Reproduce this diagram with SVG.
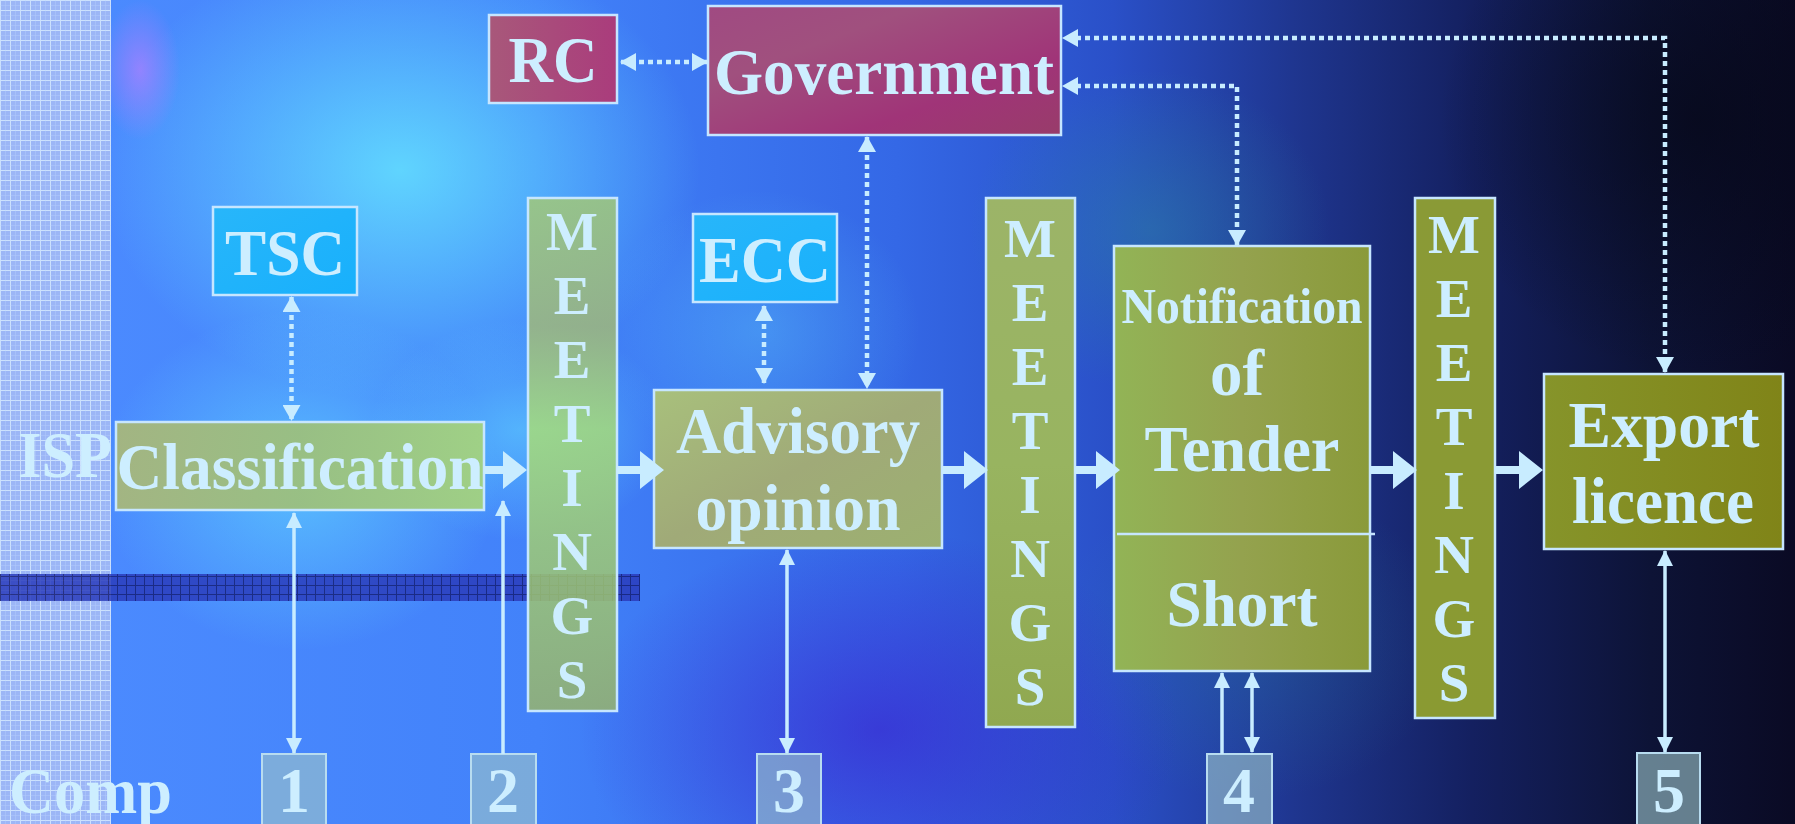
<svg xmlns="http://www.w3.org/2000/svg" width="1795" height="824" viewBox="0 0 1795 824">
<defs>
<linearGradient id="bg" x1="0" y1="0" x2="1" y2="0">
<stop offset="0" stop-color="#4d8cff"/><stop offset="0.3" stop-color="#4282fa"/><stop offset="0.5" stop-color="#3468e6"/><stop offset="0.62" stop-color="#2a50c8"/><stop offset="0.72" stop-color="#1f3690"/><stop offset="0.82" stop-color="#142060"/><stop offset="0.92" stop-color="#0d1336"/><stop offset="1" stop-color="#0a0a24"/>
</linearGradient>
<radialGradient id="cy"><stop offset="0" stop-color="#66e8ff" stop-opacity="0.8"/><stop offset="1" stop-color="#66e8ff" stop-opacity="0"/></radialGradient>
<radialGradient id="pu"><stop offset="0" stop-color="#3a1ccc" stop-opacity="0.6"/><stop offset="1" stop-color="#3a1ccc" stop-opacity="0"/></radialGradient>
<radialGradient id="te"><stop offset="0" stop-color="#2c8aa0" stop-opacity="0.45"/><stop offset="1" stop-color="#2c8aa0" stop-opacity="0"/></radialGradient>
<radialGradient id="vi"><stop offset="0" stop-color="#b080ff" stop-opacity="0.7"/><stop offset="1" stop-color="#b080ff" stop-opacity="0"/></radialGradient>
<radialGradient id="dk"><stop offset="0" stop-color="#060818" stop-opacity="0.7"/><stop offset="1" stop-color="#060818" stop-opacity="0"/></radialGradient>
<pattern id="grid" width="10" height="10" patternUnits="userSpaceOnUse">
<rect width="10" height="10" fill="#9cb6f6"/><path d="M0,0.5H10M0.5,0V10" stroke="#d8ecff" stroke-width="1" opacity="0.8"/><path d="M0,5.5H10M5.5,0V10" stroke="#b8d0ff" stroke-width="0.6" opacity="0.6"/>
</pattern>
<pattern id="band" width="9" height="9" patternUnits="userSpaceOnUse">
<rect width="9" height="9" fill="#2a3cbc"/><path d="M0,0.5H9M0.5,0V9" stroke="#121a70" stroke-width="1"/>
</pattern>
<linearGradient id="gMag" x1="0" y1="0" x2="1" y2="1"><stop offset="0" stop-color="#a04a82"/><stop offset="0.3" stop-color="#a0507e"/><stop offset="0.7" stop-color="#a03478"/><stop offset="1" stop-color="#983c6a"/></linearGradient>
<linearGradient id="gRC" x1="0" y1="0" x2="1" y2="0"><stop offset="0" stop-color="#a8587a"/><stop offset="1" stop-color="#aa3c7c"/></linearGradient>
<linearGradient id="gCy" x1="0" y1="0" x2="1" y2="1"><stop offset="0" stop-color="#28b6fa"/><stop offset="1" stop-color="#18b0fc"/></linearGradient>
<linearGradient id="gCl" x1="0" y1="0" x2="1" y2="0"><stop offset="0" stop-color="#aab878"/><stop offset="0.5" stop-color="#9ec07a"/><stop offset="1" stop-color="#a6d47c"/></linearGradient>
<linearGradient id="gM1" x1="0" y1="0" x2="0" y2="1"><stop offset="0" stop-color="#a2c878"/><stop offset="0.25" stop-color="#a0b87a"/><stop offset="0.45" stop-color="#a6dc7a"/><stop offset="1" stop-color="#98b46c"/></linearGradient>
<linearGradient id="gAd" x1="0" y1="0" x2="1" y2="1"><stop offset="0" stop-color="#a8c07c"/><stop offset="0.5" stop-color="#a0aa78"/><stop offset="1" stop-color="#9cb070"/></linearGradient>
<linearGradient id="gM2" x1="0" y1="0" x2="0" y2="1"><stop offset="0" stop-color="#9cb468"/><stop offset="0.5" stop-color="#98b460"/><stop offset="1" stop-color="#90a850"/></linearGradient>
<linearGradient id="gNo" x1="0" y1="0" x2="1" y2="0"><stop offset="0" stop-color="#92b456"/><stop offset="0.5" stop-color="#94a24e"/><stop offset="1" stop-color="#8a9a3a"/></linearGradient>
<linearGradient id="gM3" x1="0" y1="0" x2="0" y2="1"><stop offset="0" stop-color="#8a9a36"/><stop offset="1" stop-color="#8a9a32"/></linearGradient>
<linearGradient id="gEx" x1="0" y1="0" x2="1" y2="0"><stop offset="0" stop-color="#86942a"/><stop offset="1" stop-color="#808418"/></linearGradient>
<marker id="ah" viewBox="0 0 16 16" refX="15" refY="8" markerWidth="16" markerHeight="16" markerUnits="userSpaceOnUse" orient="auto-start-reverse"><path d="M0,0L16,8L0,16Z" fill="#c8ecff"/></marker>
<marker id="ad" viewBox="0 0 16 18" refX="15" refY="9" markerWidth="16" markerHeight="18" markerUnits="userSpaceOnUse" orient="auto-start-reverse"><path d="M0,0L16,9L0,18Z" fill="#c8ecff"/></marker>
<style>
.t{font-family:"Liberation Serif","Times New Roman",serif;font-weight:bold;fill:#cdeeff;text-anchor:middle;font-size:66px}
.s{text-anchor:start}
.m{font-size:55px}
.d{font-size:64px}
.box{stroke:#c6e6ff;stroke-width:2.5}
.num{fill:#9cc4c8;fill-opacity:0.62;stroke:#b8dcf0;stroke-width:2}
.thin{fill:none;stroke:#c8ecff;stroke-width:3.5}
.dot{fill:none;stroke:#c8ecff;stroke-width:4.5;stroke-dasharray:5 4}
.blk{fill:#c8ecff}
</style>
</defs>
<g id="background">
<rect width="1795" height="824" fill="url(#bg)"/>
<ellipse cx="400" cy="170" rx="300" ry="230" fill="url(#cy)"/>
<ellipse cx="300" cy="480" rx="200" ry="170" fill="url(#cy)" opacity="0.7"/>
<ellipse cx="520" cy="430" rx="150" ry="110" fill="url(#cy)" opacity="0.6"/>
<ellipse cx="760" cy="330" rx="160" ry="140" fill="url(#cy)" opacity="0.35"/>
<ellipse cx="880" cy="730" rx="300" ry="200" fill="url(#pu)"/>
<ellipse cx="1150" cy="230" rx="180" ry="160" fill="url(#te)"/>
<ellipse cx="1250" cy="640" rx="200" ry="160" fill="url(#te)" opacity="0.6"/>
<ellipse cx="140" cy="70" rx="40" ry="70" fill="url(#vi)"/>
<ellipse cx="1700" cy="120" rx="260" ry="260" fill="url(#dk)"/>
<rect x="0" y="0" width="111" height="824" fill="url(#grid)"/>
<rect x="0" y="574" width="640" height="27" fill="url(#band)" opacity="0.85"/>
</g>
<g id="labels">
<text class="t s" x="18" y="477" textLength="94" lengthAdjust="spacingAndGlyphs">ISP</text>
<text class="t s" x="9" y="813" textLength="163" lengthAdjust="spacingAndGlyphs">Comp</text>
</g>
<g id="rc"><rect class="box" x="489" y="15" width="128" height="88" fill="url(#gRC)"/><text class="t" x="553" y="82" textLength="89" lengthAdjust="spacingAndGlyphs">RC</text></g>
<g id="government"><rect class="box" x="708" y="6" width="353" height="129" fill="url(#gMag)"/><text class="t" x="884" y="94" textLength="340" lengthAdjust="spacingAndGlyphs">Government</text></g>
<g id="tsc"><rect class="box" x="213" y="207" width="144" height="88" fill="url(#gCy)"/><text class="t" x="285" y="275" textLength="120" lengthAdjust="spacingAndGlyphs">TSC</text></g>
<g id="ecc"><rect class="box" x="693" y="214" width="144" height="88" fill="url(#gCy)"/><text class="t" x="765" y="282" textLength="132" lengthAdjust="spacingAndGlyphs">ECC</text></g>
<g id="classification"><rect class="box" x="116" y="422" width="368" height="88" fill="url(#gCl)" fill-opacity="0.92"/><text class="t" x="300" y="489" textLength="367" lengthAdjust="spacingAndGlyphs">Classification</text></g>
<g id="meetings1"><rect class="box" x="528" y="198" width="89" height="513" fill="url(#gM1)" fill-opacity="0.85"/>
<text class="t m" x="572"><tspan x="572" y="250">M</tspan><tspan x="572" y="314">E</tspan><tspan x="572" y="378">E</tspan><tspan x="572" y="442">T</tspan><tspan x="572" y="506">I</tspan><tspan x="572" y="570">N</tspan><tspan x="572" y="634">G</tspan><tspan x="572" y="698">S</tspan></text></g>
<g id="advisory"><rect class="box" x="654" y="390" width="288" height="158" fill="url(#gAd)"/><text class="t" x="798" y="453" textLength="244" lengthAdjust="spacingAndGlyphs">Advisory</text><text class="t" x="798" y="530" textLength="205" lengthAdjust="spacingAndGlyphs">opinion</text></g>
<g id="meetings2"><rect class="box" x="986" y="198" width="89" height="529" fill="url(#gM2)"/>
<text class="t m" x="1030"><tspan x="1030" y="257">M</tspan><tspan x="1030" y="321">E</tspan><tspan x="1030" y="385">E</tspan><tspan x="1030" y="449">T</tspan><tspan x="1030" y="513">I</tspan><tspan x="1030" y="577">N</tspan><tspan x="1030" y="641">G</tspan><tspan x="1030" y="705">S</tspan></text></g>
<g id="notification"><rect class="box" x="1114" y="246" width="256" height="425" fill="url(#gNo)"/>
<line x1="1117" y1="534" x2="1375" y2="534" stroke="#c6e6ff" stroke-width="2.5"/>
<text class="t" x="1242" y="323" style="font-size:51px" textLength="241" lengthAdjust="spacingAndGlyphs">Notification</text><text class="t" x="1237" y="395" textLength="54" lengthAdjust="spacingAndGlyphs">of</text><text class="t" x="1242" y="471" textLength="195" lengthAdjust="spacingAndGlyphs">Tender</text><text class="t" x="1242" y="626" textLength="151" lengthAdjust="spacingAndGlyphs">Short</text></g>
<g id="meetings3"><rect class="box" x="1415" y="198" width="80" height="520" fill="url(#gM3)"/>
<text class="t m" x="1454"><tspan x="1454" y="253">M</tspan><tspan x="1454" y="317">E</tspan><tspan x="1454" y="381">E</tspan><tspan x="1454" y="445">T</tspan><tspan x="1454" y="509">I</tspan><tspan x="1454" y="573">N</tspan><tspan x="1454" y="637">G</tspan><tspan x="1454" y="701">S</tspan></text></g>
<g id="export"><rect class="box" x="1544" y="374" width="239" height="175" fill="url(#gEx)"/><text class="t" x="1664" y="447" textLength="191" lengthAdjust="spacingAndGlyphs">Export</text><text class="t" x="1663" y="523" textLength="182" lengthAdjust="spacingAndGlyphs">licence</text></g>
<g id="n1"><rect class="num" x="262" y="754" width="64" height="80"/><text class="t d" x="294" y="812">1</text></g>
<g id="n2"><rect class="num" x="471" y="754" width="65" height="80"/><text class="t d" x="503" y="812">2</text></g>
<g id="n3"><rect class="num" x="757" y="754" width="64" height="80"/><text class="t d" x="789" y="812">3</text></g>
<g id="n4"><rect class="num" x="1207" y="754" width="65" height="80"/><text class="t d" x="1239" y="812">4</text></g>
<g id="n5"><rect class="num" x="1637" y="753" width="63" height="80"/><text class="t d" x="1669" y="812">5</text></g>
<g id="connectors">
<path class="blk" d="M484,466H503V451L527,470L503,489V474H484Z"/>
<path class="blk" d="M617,466H640V451L664,470L640,489V474H617Z"/>
<path class="blk" d="M942,466H964V451L988,470L964,489V474H942Z"/>
<path class="blk" d="M1075,466H1096V451L1120,470L1096,489V474H1075Z"/>
<path class="blk" d="M1370,466H1393V451L1417,470L1393,489V474H1370Z"/>
<path class="blk" d="M1495,466H1519V451L1543,470L1519,489V474H1495Z"/>
<path class="dot" d="M621,62H707" marker-start="url(#ad)" marker-end="url(#ad)"/>
<path class="dot" d="M867,137V388" marker-start="url(#ad)" marker-end="url(#ad)"/>
<path class="dot" d="M764,306V383" marker-start="url(#ad)" marker-end="url(#ad)"/>
<path class="dot" d="M291.5,297V420" marker-start="url(#ad)" marker-end="url(#ad)"/>
<path class="dot" d="M1665,372V38H1063" marker-start="url(#ad)" marker-end="url(#ad)"/>
<path class="dot" d="M1237,245V86H1063" marker-start="url(#ad)" marker-end="url(#ad)"/>
<path class="thin" d="M294,513V753" marker-start="url(#ah)" marker-end="url(#ah)"/>
<path class="thin" d="M503,754V501" marker-end="url(#ah)"/>
<path class="thin" d="M787,550V753" marker-start="url(#ah)" marker-end="url(#ah)"/>
<path class="thin" d="M1222,754V673" marker-end="url(#ah)"/>
<path class="thin" d="M1252,673V752" marker-start="url(#ah)" marker-end="url(#ah)"/>
<path class="thin" d="M1665,551V752" marker-start="url(#ah)" marker-end="url(#ah)"/>
</g>
</svg>
